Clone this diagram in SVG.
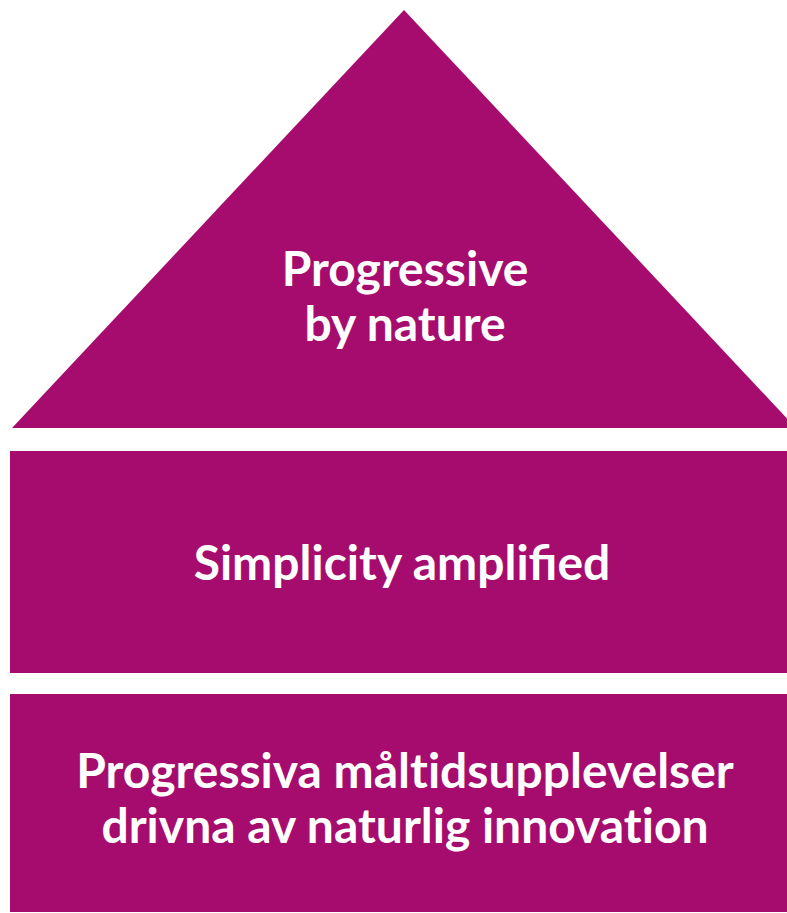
<svg xmlns="http://www.w3.org/2000/svg" width="787" height="913" viewBox="0 0 787 913">
<style>
.shape{fill:#A60C6E}
.lbl{font-family:Lato,"Open Sans","Liberation Sans",sans-serif;font-weight:bold;font-size:48px;fill:#ffffff;text-anchor:middle}
.nolig{font-variant-ligatures:none}
</style>
<rect width="787" height="913" fill="#ffffff"/>
<g id="top">
<polygon class="shape" points="404,10 796,428 12,428"/>
<text class="lbl" x="405" y="286">Progressive</text>
<text class="lbl" x="405" y="341">by nature</text>
</g>
<g id="middle">
<rect class="shape" x="10" y="451" width="777" height="222"/>
<text class="lbl" x="402" y="580">Simplicity amplified</text>
</g>
<g id="bottom">
<rect class="shape" x="10" y="694" width="777" height="218"/>
<text class="lbl nolig" x="405" y="788">Progressiva måltidsupplevelser</text>
<text class="lbl nolig" x="405" y="843">drivna av naturlig innovation</text>
</g>
<g id="connectors"/>
</svg>
